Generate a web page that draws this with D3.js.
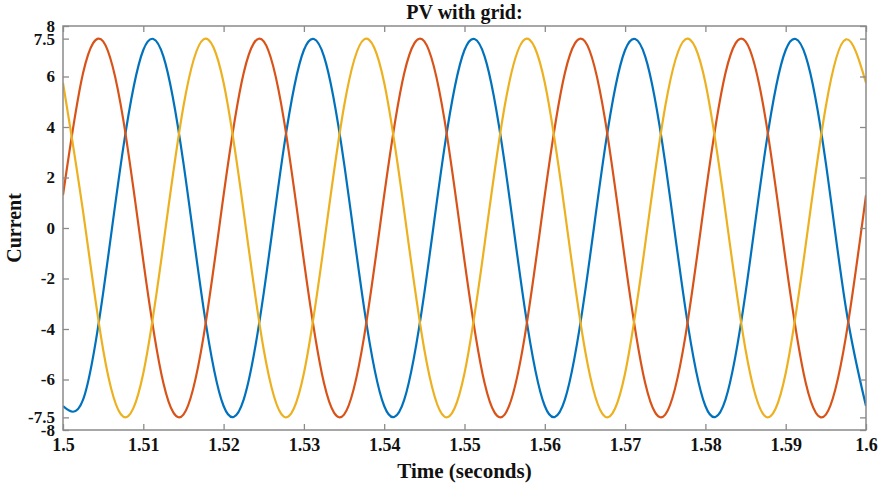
<!DOCTYPE html>
<html>
<head>
<meta charset="utf-8">
<script src="https://cdn.jsdelivr.net/npm/d3@7"></script>
<style>
body{margin:0;background:#fff;}
svg text{font-family:"Liberation Serif","Times New Roman",serif;font-weight:bold;fill:#111;}
</style>
</head>
<body>
<svg id="chart" width="883" height="485"></svg>
<script>
// Sample times (s), every 0.0025 s
const times = [1.5000,1.5025,1.5050,1.5075,1.5100,1.5125,1.5150,1.5175,1.5200,1.5225,
  1.5250,1.5275,1.5300,1.5325,1.5350,1.5375,1.5400,1.5425,1.5450,1.5475,
  1.5500,1.5525,1.5550,1.5575,1.5600,1.5625,1.5650,1.5675,1.5700,1.5725,
  1.5750,1.5775,1.5800,1.5825,1.5850,1.5875,1.5900,1.5925,1.5950,1.5975,1.6000];
// Phase currents
const phaseA = [-7.05,-6.80,-2.57,3.17,7.05,6.80,2.57,-3.17,
  -7.05,-6.80,-2.57,3.17,7.05,6.80,2.57,-3.17,
  -7.05,-6.80,-2.57,3.17,7.05,6.80,2.57,-3.17,
  -7.05,-6.80,-2.57,3.17,7.05,6.80,2.57,-3.17,
  -7.05,-6.80,-2.57,3.17,7.05,6.80,2.57,-3.17,-7.05];
const phaseB = [1.30,6.14,7.39,4.30,-1.30,-6.14,-7.39,-4.30,
  1.30,6.14,7.39,4.30,-1.30,-6.14,-7.39,-4.30,
  1.30,6.14,7.39,4.30,-1.30,-6.14,-7.39,-4.30,
  1.30,6.14,7.39,4.30,-1.30,-6.14,-7.39,-4.30,
  1.30,6.14,7.39,4.30,-1.30,-6.14,-7.39,-4.30,1.30];
const phaseC = [5.75,0.65,-4.82,-7.47,-5.75,-0.65,4.82,7.47,
  5.75,0.65,-4.82,-7.47,-5.75,-0.65,4.82,7.47,
  5.75,0.65,-4.82,-7.47,-5.75,-0.65,4.82,7.47,
  5.75,0.65,-4.82,-7.47,-5.75,-0.65,4.82,7.47,
  5.75,0.65,-4.82,-7.47,-5.75,-0.65,4.82,7.47,5.75];
const seriesColors = ["#0072BD","#D95319","#EDB120"];
const xTicks = [1.5,1.51,1.52,1.53,1.54,1.55,1.56,1.57,1.58,1.59,1.6];
const yTicks = [-8,-7.5,-6,-4,-2,0,2,4,6,7.5,8];
const titleText = "PV with grid:";
const xLabel = "Time (seconds)";
const yLabel = "Current";

const svg = d3.select("#chart");
const L = 63, R = 866, T = 26, B = 430;
const x = d3.scaleLinear().domain([1.5,1.6]).range([L,R]);
const y = d3.scaleLinear().domain([-8,8]).range([B,T]);

const axisColor = "#8a8a8a";
const fmt = d => String(d);

// Lines
const series = [phaseA, phaseB, phaseC];
const line = d3.line().x(d => x(d[0])).y(d => y(d[1])).curve(d3.curveNatural);
const clip = svg.append("clipPath").attr("id","clip").append("rect")
  .attr("x",L).attr("y",T-3).attr("width",R-L).attr("height",B-T+6);
const g = svg.append("g").attr("clip-path","url(#clip)");
series.forEach((vals,i) => {
  g.append("path")
    .datum(times.map((t,j)=>[t,vals[j]]))
    .attr("d",line)
    .attr("fill","none")
    .attr("stroke",seriesColors[i])
    .attr("stroke-width",2.2);
});

function styleAxis(sel, size){
  sel.select(".domain").remove();
  sel.selectAll(".tick line").attr("stroke",axisColor).attr("stroke-width",1.3);
  if(!size){ sel.selectAll(".tick text").remove(); return; }
  sel.selectAll(".tick text").attr("font-size", size)
     .style("font-family","'Liberation Serif','Times New Roman',serif")
     .style("font-weight","bold").attr("fill","#111");
}
const xb = svg.append("g").attr("transform",`translate(0,${B})`)
  .call(d3.axisBottom(x).tickValues(xTicks).tickFormat(fmt).tickSize(-6).tickPadding(8));
styleAxis(xb,18);
const xt = svg.append("g").attr("transform",`translate(0,${T})`)
  .call(d3.axisTop(x).tickValues(xTicks).tickSize(-6));
styleAxis(xt,0);
const yl = svg.append("g").attr("transform",`translate(${L},0)`)
  .call(d3.axisLeft(y).tickValues(yTicks).tickFormat(fmt).tickSize(-6).tickPadding(8));
styleAxis(yl,17);
const yr = svg.append("g").attr("transform",`translate(${R},0)`)
  .call(d3.axisRight(y).tickValues(yTicks).tickSize(-6));
styleAxis(yr,0);

// Box
svg.append("rect").attr("x",L).attr("y",T).attr("width",R-L).attr("height",B-T)
  .attr("fill","none").attr("stroke",axisColor).attr("stroke-width",1.5);

// Texts
svg.append("text").attr("x",(L+R)/2).attr("y",19).attr("text-anchor","middle")
  .attr("font-size",20).text(titleText);
svg.append("text").attr("x",(L+R)/2).attr("y",478).attr("text-anchor","middle")
  .attr("font-size",21).text(xLabel);
svg.append("text").attr("transform",`translate(21,${(T+B)/2}) rotate(-90)`)
  .attr("text-anchor","middle").attr("font-size",20).text(yLabel);
</script>
</body>
</html>
